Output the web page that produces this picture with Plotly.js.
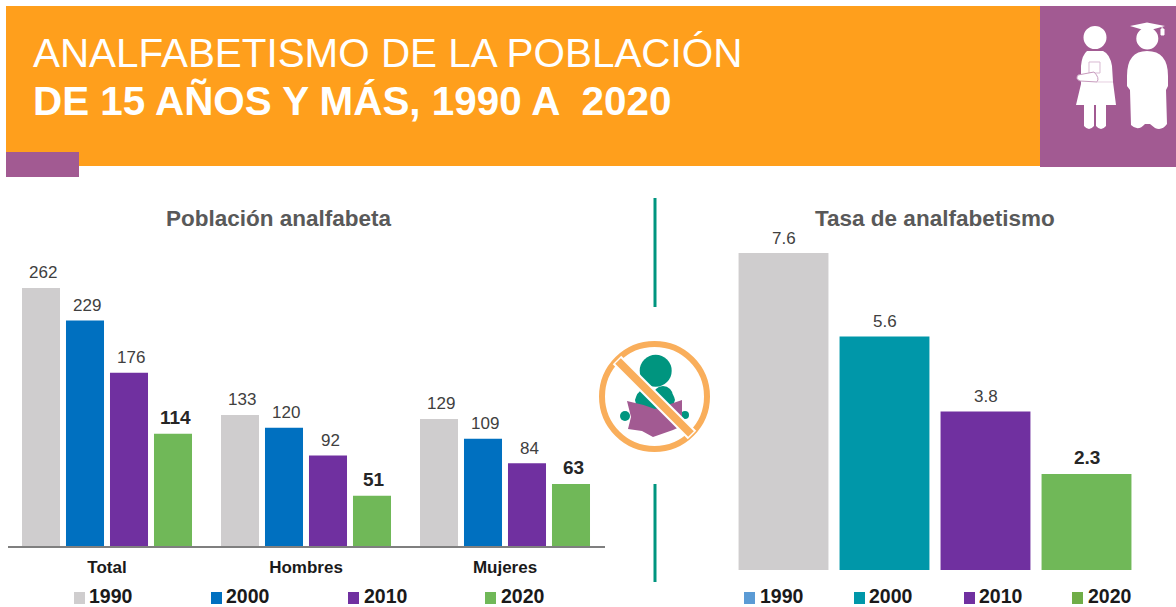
<!DOCTYPE html>
<html><head><meta charset="utf-8">
<script src="https://cdn.plot.ly/plotly-3.0.1.min.js"></script>
<style>html,body{margin:0;padding:0;background:#fff;overflow:hidden}#c{width:1176px;height:607px}</style>
</head><body><div id="c"></div>
<script>
const years = ['1990','2000','2010','2020'];
const groups = ['Total','Hombres','Mujeres'];
const pop1990 = [262,133,129];
const pop2000 = [229,120,109];
const pop2010 = [176,92,84];
const pop2020 = [114,51,63];
const rate = [7.6,5.6,3.8,2.3];
const popColors = ['#CFCDCE','#0070C0','#7030A0','#70B858'];
const rateColors = ['#CFCDCE','#0097A9','#7030A0','#70B858'];
const rateLegendColors = ['#5B9BD5','#0097A9','#7030A0','#70AD47'];
const titleLine1 = 'ANALFABETISMO DE LA POBLACIÓN';
const titleLine2 = 'DE 15 AÑOS Y MÁS, 1990 A  2020';

const W = 1176, H = 607;
const fx = x => x / W, fy = y => 1 - y / H;
const font = 'Liberation Sans, Arial, sans-serif';
const ORANGE = '#FF9F1C', PLUM = '#A25A92', TEAL = '#00957F', RING = '#F9AE5B';

function rect(x0,y0,x1,y1,c){return {type:'rect',xref:'paper',yref:'paper',x0:fx(x0),x1:fx(x1),y0:fy(y1),y1:fy(y0),fillcolor:c,line:{width:0}};}
function circ(cx,cy,r,c,lw,lc){return {type:'circle',xref:'paper',yref:'paper',x0:fx(cx-r),x1:fx(cx+r),y0:fy(cy+r),y1:fy(cy-r),fillcolor:c,line:{width:lw||0,color:lc||c}};}
function path(d,c,lw,lc){
  const conv = d.replace(/(-?[\d.]+),(-?[\d.]+)/g,(m,a,b)=>fx(+a).toFixed(5)+','+fy(+b).toFixed(5));
  return {type:'path',xref:'paper',yref:'paper',path:conv,fillcolor:c,line:{width:lw||0,color:lc||c}};
}

const shapes = [
  rect(6,6,1040,166,ORANGE),
  rect(1040,6,1176,167,PLUM),
  rect(6,152,79,177,PLUM),
  {type:'line',xref:'paper',yref:'paper',x0:fx(655),x1:fx(655),y0:fy(198),y1:fy(307),line:{color:TEAL,width:3}},
  {type:'line',xref:'paper',yref:'paper',x0:fx(655),x1:fx(655),y0:fy(484),y1:fy(582),line:{color:TEAL,width:3}},
  // pupil with book
  circ(1095,37.5,11.5,'#fff'),
  path('M1087,51 L1103,51 Q1110,54 1112,66 L1113,82 L1116,105 L1076,105 L1081,84 L1081,66 Q1082,55 1087,51 Z','#fff'),
  path('M1084,105 L1094,105 L1094,126 Q1089,132 1084,126 Z','#fff'),
  path('M1096,105 L1106,105 L1106,126 Q1101,132 1096,126 Z','#fff'),
  path('M1089,62 L1100,62 L1100,73 L1089,73 Z','#fff',1,'#D9B9D2'),
  path('M1078,75 L1094,72 Q1100,78 1097,82 L1080,81 Q1075,79 1078,75 Z','#fff',1,'#C79BBD'),
  path('M1097,82 L1113,82','rgba(0,0,0,0)',1,'#E6CFE0'),
  // graduate
  path('M1130,26 L1147,22.5 L1165,26 L1147,31 Z','#fff'),
  path('M1162,27 L1163,34 M1161,29 L1164,29 L1164,35 L1161,35 Z','#fff',1,'#fff'),
  circ(1147.3,38.5,11,'#fff'),
  path('M1147,51 Q1168,51 1168,76 L1168,86 L1166,90 L1167,124 Q1162,131 1155,128 L1150,124 L1145,124 Q1138,132 1131,125 L1130,90 L1127,86 L1127,76 Q1127,51 1147,51 Z','#fff'),
  // crossed-out reader
  path('M635,400 Q637,392 642,390 L668,390 Q674,394 675,400 L668,420 L640,420 Z',TEAL),
  circ(663,396,10,TEAL),
  circ(625,416,5,TEAL),
  circ(685,415,4,TEAL),
  circ(655.7,370.7,16,TEAL),
  path('M627,401 Q642,404 655,409 Q668,405 682,400 L682,426 L673,430 L653,437 L642,431 L628,429 L631,417 Z',PLUM),
  circ(654.5,396.5,52.5,'rgba(0,0,0,0)',6,RING),
  {type:'line',xref:'paper',yref:'paper',x0:fx(617),x1:fx(692),y0:fy(360),y1:fy(435),line:{color:'#fff',width:12}},
  {type:'line',xref:'paper',yref:'paper',x0:fx(618),x1:fx(691),y0:fy(361),y1:fy(434),line:{color:RING,width:8}}
];

const annotations = [
  {text:titleLine1,x:fx(32),y:fy(53),xanchor:'left',yanchor:'middle',font:{size:40.4,color:'#fff',family:font}},
  {text:'<b>'+titleLine2+'</b>',x:fx(32),y:fy(101),xanchor:'left',yanchor:'middle',font:{size:40.4,color:'#fff',family:font}},
  {text:'<b>Población analfabeta</b>',x:fx(279),y:fy(218),xanchor:'center',yanchor:'middle',font:{size:22.5,color:'#595959',family:font}},
  {text:'<b>Tasa de analfabetismo</b>',x:fx(935),y:fy(218),xanchor:'center',yanchor:'middle',font:{size:22.5,color:'#595959',family:font}}
].map(a=>Object.assign({xref:'paper',yref:'paper',showarrow:false,borderpad:0},a));

function legendItems(labels,colors,xs,textxs){
  labels.forEach((t,i)=>{
    shapes.push(rect(xs[i],592,xs[i]+11,604,colors[i]));
    annotations.push({xref:'paper',yref:'paper',showarrow:false,text:'<b>'+t+'</b>',x:fx(textxs[i]),y:fy(595.5),xanchor:'left',yanchor:'middle',borderpad:0,font:{size:19.5,color:'#1a1a1a',family:font}});
  });
}
legendItems(years,popColors,[74,211,348,485],[88,225,363,500]);
legendItems(years,rateLegendColors,[744,854,964,1072],[759,868,978,1087]);

const series = [pop1990,pop2000,pop2010,pop2020];
const traces = series.map((v,i)=>({
  type:'bar',name:years[i],x:groups,y:v,xaxis:'x',yaxis:'y',
  marker:{color:popColors[i]},cliponaxis:false,hoverinfo:'x+y+name'
}));
traces.push({
  type:'bar',name:'Tasa',x:years,y:rate,xaxis:'x2',yaxis:'y2',width:0.89,
  marker:{color:rateColors},cliponaxis:false,hoverinfo:'x+y'
});

// value labels, anchored to the data through the axes
const groupPitch = 0.2211;
series.forEach((v,i)=>v.forEach((n,g)=>{
  annotations.push({xref:'x',yref:'y',x:g+(i-1.5)*groupPitch,y:n,yanchor:'middle',xanchor:'center',xshift:2,yshift:i===3?16:15,showarrow:false,
    text:i===3?'<b>'+n+'</b>':String(n),font:{family:font,size:i===3?19:17,color:i===3?'#262626':'#404040'}});
}));
rate.forEach((n,k)=>{
  annotations.push({xref:'x2',yref:'y2',x:k,y:n,yanchor:'middle',xanchor:'center',yshift:k===3?17:15,showarrow:false,
    text:k===3?'<b>'+n.toFixed(1)+'</b>':n.toFixed(1),font:{family:font,size:k===3?19:17,color:k===3?'#262626':'#404040'}});
});

const layout = {
  width:W,height:H,margin:{l:0,r:0,t:0,b:0},paper_bgcolor:'#fff',plot_bgcolor:'rgba(0,0,0,0)',
  showlegend:false,barmode:'group',bargap:0.1156,bargroupgap:0.136,
  xaxis:{domain:[fx(7.5),fx(604.5)],type:'category',range:[-0.5,2.5],anchor:'y',showgrid:false,zeroline:false,
    showline:true,linecolor:'#7f7f7f',linewidth:2,ticks:'',ticklabelstandoff:5,
    tickfont:{family:font,size:17,color:'#1a1a1a',weight:'bold'},fixedrange:true},
  yaxis:{domain:[fy(546),fy(200)],range:[0,346/0.985],anchor:'x',visible:false,fixedrange:true},
  xaxis2:{domain:[fx(733),fx(1137)],type:'category',range:[-0.5,3.5],anchor:'y2',showgrid:false,zeroline:false,showline:false,showticklabels:false,ticks:'',fixedrange:true},
  yaxis2:{domain:[fy(570),fy(210)],range:[0,360/41.7],anchor:'x2',visible:false,fixedrange:true},
  shapes,annotations
};
Plotly.newPlot('c',traces,layout,{displayModeBar:false,staticPlot:true});
</script></body></html>
